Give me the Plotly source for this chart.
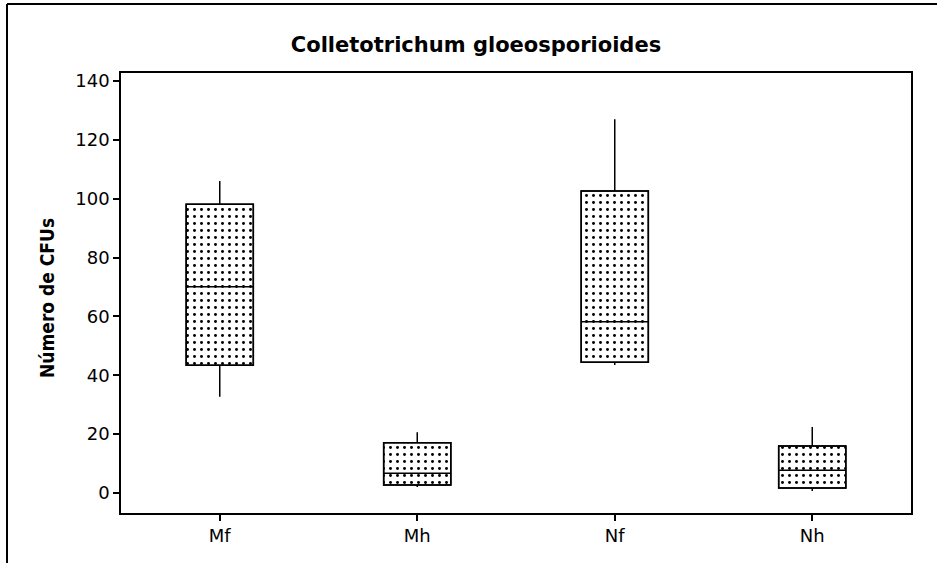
import plotly.graph_objects as go

# Group labels and five-number summaries (Número de CFUs)
groups = ["Mf", "Mh", "Nf", "Nh"]
lower_whisker = [32.7, 2.0, 43.5, 0.7]
q1 = [43.4, 2.7, 44.4, 1.7]
median = [70.1, 6.7, 58.2, 7.7]
q3 = [98.1, 17.1, 102.6, 16.0]
upper_whisker = [106.0, 20.6, 127.0, 22.4]

y_ticks = [0, 20, 40, 60, 80, 100, 120, 140]

BOX_W = 0.34
FONT = "DejaVu Sans, Verdana, sans-serif"

fig = go.Figure()

# Dotted fill of each box (interquartile range), drawn as floating bars
fig.add_trace(go.Bar(
    x=groups,
    y=[b - a for a, b in zip(q1, q3)],
    base=q1,
    width=BOX_W,
    marker=dict(
        color="white",
        line=dict(color="black", width=1.5),
        pattern=dict(shape=".", fgcolor="black", bgcolor="white",
                     size=7, solidity=0.14, fillmode="replace"),
    ),
    hoverinfo="skip",
    showlegend=False,
))

# Box outlines, medians and whiskers
fig.add_trace(go.Box(
    x=groups,
    q1=q1,
    median=median,
    q3=q3,
    lowerfence=lower_whisker,
    upperfence=upper_whisker,
    width=BOX_W,
    whiskerwidth=0,
    fillcolor="rgba(0,0,0,0)",
    line=dict(color="black", width=1.5),
    showlegend=False,
))

L, T, R, B = 121, 73, 36, 50
W, H = 947, 563
pw, ph = W - L - R, H - T - B


def px_x(x):
    return (x - L) / pw


def px_y(y):
    return (H - B - y) / ph


fig.update_layout(
    width=W, height=H,
    margin=dict(l=L, r=R, t=T, b=B),
    paper_bgcolor="white",
    plot_bgcolor="white",
    barmode="overlay",
    font=dict(family=FONT, size=18, color="black"),
    title=dict(
        text="<b>Colletotrichum gloeosporioides</b>",
        font=dict(family=FONT, size=21, color="black"),
        x=px_x(476), xref="paper", xanchor="center",
        y=1 - 45 / H, yanchor="middle",
    ),
    xaxis=dict(
        type="category",
        range=[-0.5, 3.5],
        showline=True, linecolor="black", linewidth=1.5, mirror=True,
        ticks="outside", ticklen=6, tickcolor="black", tickwidth=1.5,
        showgrid=False, zeroline=False,
        tickfont=dict(size=18),
    ),
    yaxis=dict(
        range=[-6.8, 142.7],
        tickvals=y_ticks,
        showline=True, linecolor="black", linewidth=1.5, mirror=True,
        ticks="outside", ticklen=6, tickcolor="black", tickwidth=1.5,
        showgrid=False, zeroline=False,
        tickfont=dict(size=18),
    ),
    annotations=[dict(
        text="<b>Número de CFUs</b>",
        xref="paper", yref="paper",
        x=px_x(47), y=px_y(298),
        xanchor="center", yanchor="middle",
        textangle=-90, showarrow=False,
        font=dict(family="DejaVu Sans Condensed, DejaVu Sans",
                  size=19, color="black"),
    )],
    shapes=[
        # outer frame: top and left edges
        dict(type="line", xref="paper", yref="paper",
             x0=px_x(7), x1=px_x(937), y0=px_y(4), y1=px_y(4),
             line=dict(color="black", width=2)),
        dict(type="line", xref="paper", yref="paper",
             x0=px_x(7), x1=px_x(7), y0=px_y(4), y1=px_y(563),
             line=dict(color="black", width=2)),
    ],
)

fig.write_html("out.html")
